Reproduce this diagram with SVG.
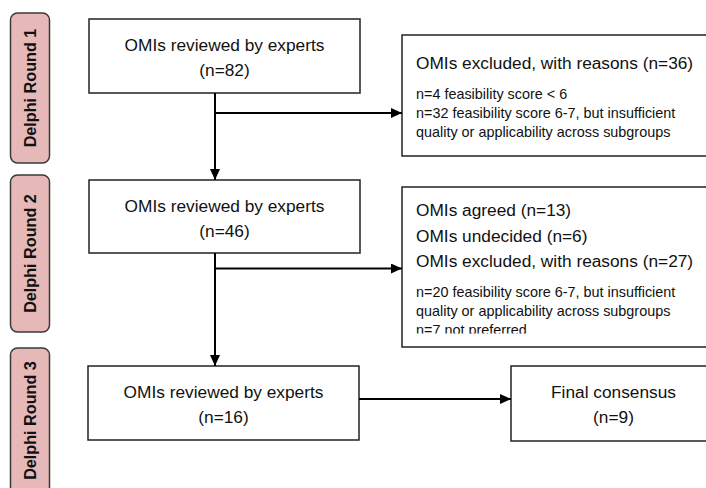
<svg xmlns="http://www.w3.org/2000/svg" width="706" height="488" viewBox="0 0 706 488">
  <style>
    .pill { fill: #e6b9b8; stroke: #3a3a3a; stroke-width: 1.5; }
    .pill-label { font-family: "Liberation Sans", Arial, sans-serif; font-weight: bold; font-size: 16.2px; fill: #111; text-anchor: middle; }
    .box { fill: #fff; stroke: #222; stroke-width: 1.5; }
    .main { font-family: "Liberation Sans", Arial, sans-serif; font-size: 17.3px; fill: #111; }
    .mid { text-anchor: middle; }
    .small { font-family: "Liberation Sans", Arial, sans-serif; font-size: 14.4px; fill: #111; }
    .conn { stroke: #000; stroke-width: 2; fill: none; marker-end: url(#arrow); }
  </style>
  <defs>
    <marker id="arrow" markerUnits="userSpaceOnUse" markerWidth="11" markerHeight="10" refX="11" refY="5" orient="auto">
      <path d="M0,0 L11,5 L0,10 z" fill="#000"/>
    </marker>
    <clipPath id="clip-excluded2">
      <rect x="402" y="187" width="320" height="146.5"/>
    </clipPath>
  </defs>

  <!-- Round labels -->
  <g id="round1">
    <rect class="pill" x="10.5" y="13" width="39" height="150" rx="7"/>
    <text class="pill-label" transform="translate(36,88) rotate(-90)">Delphi Round 1</text>
  </g>
  <g id="round2">
    <rect class="pill" x="10.5" y="175" width="39" height="157" rx="7"/>
    <text class="pill-label" transform="translate(36,253.5) rotate(-90)">Delphi Round 2</text>
  </g>
  <g id="round3">
    <rect class="pill" x="10.5" y="348" width="39" height="160" rx="7"/>
    <text class="pill-label" transform="translate(36,420.5) rotate(-90)">Delphi Round 3</text>
  </g>

  <!-- Round 1 -->
  <g id="reviewed1">
    <rect class="box" x="89" y="19" width="271" height="74"/>
    <text class="main mid" x="224.5" y="51">OMIs reviewed by experts</text>
    <text class="main mid" x="224.5" y="75.5">(n=82)</text>
  </g>
  <g id="excluded1">
    <rect class="box" x="402" y="35" width="320" height="121"/>
    <text class="main" x="416" y="68.5">OMIs excluded, with reasons (n=36)</text>
    <text class="small" x="416" y="98.5">n=4 feasibility score &lt; 6</text>
    <text class="small" x="416" y="117.5">n=32 feasibility score 6-7, but insufficient</text>
    <text class="small" x="416" y="136.5">quality or applicability across subgroups</text>
  </g>

  <!-- Round 2 -->
  <g id="reviewed2">
    <rect class="box" x="89" y="180" width="271" height="73"/>
    <text class="main mid" x="224.5" y="212">OMIs reviewed by experts</text>
    <text class="main mid" x="224.5" y="236.5">(n=46)</text>
  </g>
  <g id="excluded2">
    <rect class="box" x="402" y="187" width="320" height="160"/>
    <g clip-path="url(#clip-excluded2)">
      <text class="main" x="416" y="215.5">OMIs agreed (n=13)</text>
      <text class="main" x="416" y="241.5">OMIs undecided (n=6)</text>
      <text class="main" x="416" y="267">OMIs excluded, with reasons (n=27)</text>
      <text class="small" x="416" y="297">n=20 feasibility score 6-7, but insufficient</text>
      <text class="small" x="416" y="315.5">quality or applicability across subgroups</text>
      <text class="small" x="416" y="334.5">n=7 not preferred</text>
    </g>
  </g>

  <!-- Round 3 -->
  <g id="reviewed3">
    <rect class="box" x="88" y="366" width="271" height="74"/>
    <text class="main mid" x="223.5" y="398">OMIs reviewed by experts</text>
    <text class="main mid" x="223.5" y="422.5">(n=16)</text>
  </g>
  <g id="consensus">
    <rect class="box" x="511" y="366" width="210" height="75"/>
    <text class="main mid" x="613.5" y="398">Final consensus</text>
    <text class="main mid" x="613.5" y="422.5">(n=9)</text>
  </g>

  <!-- Connectors -->
  <g id="connectors">
    <path class="conn" d="M215,93 V180"/>
    <path class="conn" d="M215,113 H402"/>
    <path class="conn" d="M215,253 V366"/>
    <path class="conn" d="M215,268.5 H402"/>
    <path class="conn" d="M359,399 H511"/>
  </g>
</svg>
